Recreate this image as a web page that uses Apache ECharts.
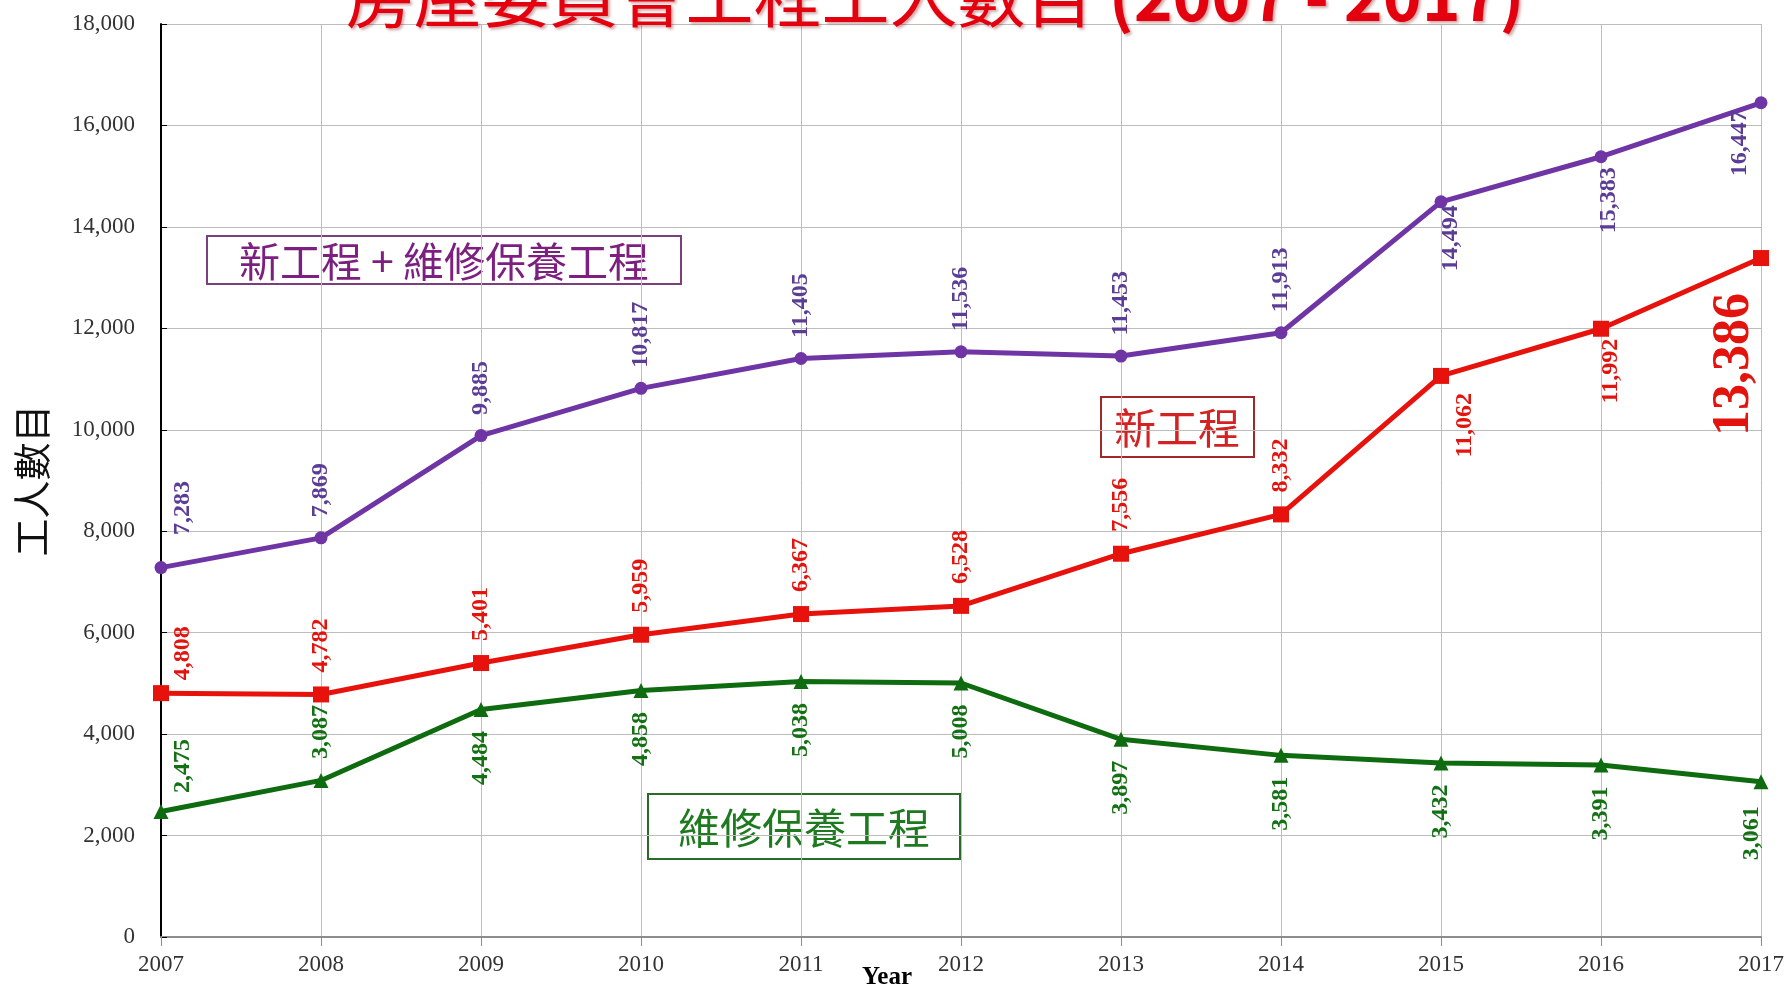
<!DOCTYPE html>
<html>
<head>
<meta charset="utf-8">
<style>
html,body{margin:0;padding:0;background:#fff;}
#chart{width:1787px;height:988px;}
</style>
<script src="https://cdn.jsdelivr.net/npm/echarts@6/dist/echarts.min.js"></script>
</head>
<body>
<div id="chart"></div>
<script>
const years = ['2007','2008','2009','2010','2011','2012','2013','2014','2015','2016','2017'];
const totalWorkers = [7283, 7869, 9885, 10817, 11405, 11536, 11453, 11913, 14494, 15383, 16447];
const newWorks = [4808, 4782, 5401, 5959, 6367, 6528, 7556, 8332, 11062, 11992, 13386];
const maintenanceWorks = [2475, 3087, 4484, 4858, 5038, 5008, 3897, 3581, 3432, 3391, 3061];
const seriesNames = ['新工程 + 維修保養工程', '新工程', '維修保養工程'];
const chartTitle = '房屋委員會工程工人數目 {b|(2007 - 2017)}';
const yAxisName = '工人數目';
const xAxisName = 'Year';

// label placement per point: side of the point + screen nudge [dx, dy]
const totalPlace = [['top',[22,-12]],['top',[0,0]],['top',[0,0]],['top',[0,0]],['top',[0,0]],['top',[0,0]],['top',[0,0]],['top',[0,0]],['bottom',[10,-17]],['bottom',[8,-10]],['bottom',[-21,-13]]];
const newPlace = [['top',[22,9]],['top',[0,0]],['top',[0,0]],['top',[0,0]],['top',[0,0]],['top',[0,0]],['top',[0,0]],['top',[0,0]],['bottom',[24,-5]],['bottom',[10,-12]],['bottom',[-26,13]]];
const mainPlace = [['top',[22,3]],['top',[0,0]],['bottom',[0,0]],['bottom',[0,0]],['bottom',[0,0]],['bottom',[0,0]],['bottom',[0,0]],['bottom',[0,0]],['bottom',[0,0]],['bottom',[0,0]],['bottom',[-9,3]]];

function fmt(v){ return String(v).replace(/\B(?=(\d{3})+(?!\d))/g, ','); }

function buildData(vals, places, bigLast){
  return vals.map((v,i)=>{
    const p = places[i];
    // label offset is applied in the rotated (90deg) frame: [-dy, dx]
    const off = [-p[1][1], p[1][0]];
    const lab = p[0]==='top'
      ? {position:'top', align:'left', verticalAlign:'middle', distance:14, offset:off}
      : {position:'bottom', align:'right', verticalAlign:'middle', distance:14, offset:off};
    if (bigLast && i === vals.length-1) { lab.fontSize = 52; lab.fontWeight = 'bold'; }
    return {value:v, label:lab};
  });
}

const serif = '"Liberation Serif", "DejaVu Serif", serif';
const cjk = '"Noto Sans CJK TC", "Noto Sans CJK SC", sans-serif';

const chart = echarts.init(document.getElementById('chart'));
const option = {
  backgroundColor:'#fff',
  animation:false,
  grid:{left:161, right:26, top:24, bottom:51, containLabel:false, outerBoundsMode:'none'},
  xAxis:{
    type:'category', data:years, boundaryGap:false,
    name:xAxisName, nameLocation:'middle', nameGap:28, nameMoveOverlap:false,
    nameTextStyle:{fontFamily:serif, fontWeight:'bold', fontSize:25, color:'#000', padding:[0,148,0,0]},
    axisLine:{lineStyle:{color:'#8c8c8c', width:2}},
    axisTick:{show:true, inside:false, length:9, lineStyle:{color:'#8c8c8c'}},
    axisLabel:{fontFamily:serif, fontSize:23, color:'#333', margin:16},
    splitLine:{show:true, lineStyle:{color:'#bdbdbd', width:1}}
  },
  yAxis:{
    type:'value', min:0, max:18000, interval:2000,
    name:yAxisName, nameLocation:'middle', nameGap:110, nameMoveOverlap:false,
    nameTextStyle:{fontFamily:cjk, fontSize:38, color:'#111'},
    axisLine:{show:true, lineStyle:{color:'#000', width:2}},
    axisTick:{show:true, inside:true, length:6, lineStyle:{color:'#000'}},
    axisLabel:{fontFamily:serif, fontSize:23, color:'#333', margin:26, formatter:(v)=>fmt(v)},
    splitLine:{show:true, lineStyle:{color:'#bdbdbd', width:1}}
  },
  series:[
    {
      name:seriesNames[2], type:'line', data:buildData(maintenanceWorks, mainPlace, false),
      symbol:'triangle', symbolSize:15,
      lineStyle:{color:'#0f6b0f', width:5}, itemStyle:{color:'#0f6b0f'},
      label:{show:true, rotate:90, fontFamily:serif, fontSize:24, fontWeight:'bold', color:'#137013', formatter:(p)=>fmt(p.value)},
      z:3
    },
    {
      name:seriesNames[1], type:'line', data:buildData(newWorks, newPlace, true),
      symbol:'rect', symbolSize:16,
      lineStyle:{color:'#e8120c', width:5}, itemStyle:{color:'#e8120c'},
      label:{show:true, rotate:90, fontFamily:serif, fontSize:24, fontWeight:'bold', color:'#e3140e', formatter:(p)=>fmt(p.value)},
      z:4
    },
    {
      name:seriesNames[0], type:'line', data:buildData(totalWorkers, totalPlace, false),
      symbol:'circle', symbolSize:13,
      lineStyle:{color:'#6f35a5', width:5}, itemStyle:{color:'#6f35a5'},
      label:{show:true, rotate:90, fontFamily:serif, fontSize:24, fontWeight:'bold', color:'#5b3d95', formatter:(p)=>fmt(p.value)},
      z:5
    }
  ],
  graphic:[
    {
      type:'text', x:0, y:0, z:10,
      style:{
        text:chartTitle,
        x:935, y:30, align:'center', verticalAlign:'bottom',
        fontFamily:cjk, fontSize:68, fill:'#e3000f',
        textShadowColor:'rgba(120,0,0,0.35)', textShadowBlur:3, textShadowOffsetX:2, textShadowOffsetY:2,
        rich:{b:{fontFamily:cjk, fontSize:66, fontWeight:'bold', fill:'#e3000f'}}
      }
    },
    {
      type:'group', z:10,
      children:[
        {type:'rect', shape:{x:207, y:236, width:474, height:48}, style:{fill:'#fff', stroke:'#7a3f7c', lineWidth:2}},
        {type:'text', style:{text:seriesNames[0], x:444, y:261, align:'center', verticalAlign:'middle', fontFamily:cjk, fontSize:41, fill:'#7d1f80'}}
      ]
    },
    {
      type:'group', z:10,
      children:[
        {type:'rect', shape:{x:1101, y:397, width:153, height:60}, style:{fill:'#fff', stroke:'#a02828', lineWidth:2}},
        {type:'text', style:{text:seriesNames[1], x:1177, y:428, align:'center', verticalAlign:'middle', fontFamily:cjk, fontSize:42, fill:'#d42222'}}
      ]
    },
    {
      type:'group', z:10,
      children:[
        {type:'rect', shape:{x:648, y:794, width:312, height:65}, style:{fill:'#fff', stroke:'#2a6b2a', lineWidth:2}},
        {type:'text', style:{text:seriesNames[2], x:804, y:828, align:'center', verticalAlign:'middle', fontFamily:cjk, fontSize:42, fill:'#1e7a1e'}}
      ]
    }
  ]
};
chart.setOption(option);
</script>
</body>
</html>
